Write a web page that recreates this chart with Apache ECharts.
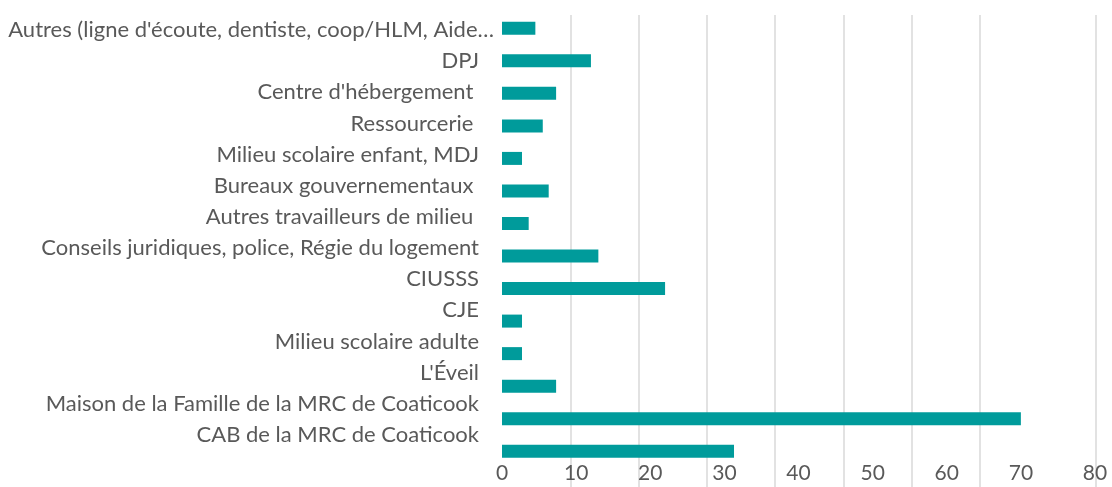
<!doctype html>
<html>
	<head>
		<meta charset="utf-8">
		<title></title>
		<script src="https://cdn.jsdelivr.net/npm/echarts@6/dist/echarts.min.js"></script>
		<style>
			html, body {
				margin: 0px;
				padding: 0px;
				background: #ffffff;
			}
			.bar-chart {
				width: 1112px;
				height: 487px;
			}
		</style>
	</head>

	<body>
		<div class="bar-chart" id="barChart"></div>
	</body>

	<script type="text/javascript">
		//类目名（从上到下）
		var categories = [
			"Autres (ligne d'écoute, dentiste, coop/HLM, Aide…",
			"DPJ",
			"Centre d'hébergement ",
			"Ressourcerie ",
			"Milieu scolaire enfant, MDJ",
			"Bureaux gouvernementaux ",
			"Autres travailleurs de milieu ",
			"Conseils juridiques, police, Régie du logement",
			"CIUSSS",
			"CJE",
			"Milieu scolaire adulte",
			"L'Éveil",
			"Maison de la Famille de la MRC de Coaticook",
			"CAB de la MRC de Coaticook"
		];
		//柱状图值
		var values = [4.5, 12, 7.3, 5.5, 2.7, 6.3, 3.6, 13, 22, 2.7, 2.7, 7.3, 70, 31.3];
		//x轴刻度
		var xMin = 0;
		var xMax = 80;
		var xStep = 10;

		var font = 'Lato';
		var textColor = '#595959';
		var gridColor = '#d9d9d9';

		var byId = function(id) {
			return document.getElementById(id);
		};

		var barChart = echarts.init(byId('barChart'));

		// 网格线（原图的网格线与刻度不对齐，单独一个网格画出来）
		var lineColors = [gridColor, gridColor, gridColor, gridColor, gridColor, gridColor, gridColor, 'rgba(0,0,0,0)', gridColor];

		// 第一个标签被截断，比其他标签更靠右
		var labelData = categories.map(function(name, i) {
			if (i === 0) {
				return {
					value: name,
					textStyle: { padding: [0, -15, 0, 0] }
				};
			}
			return name;
		});

		var option = {
			animation: false,
			grid: [{
				// 柱子
				left: 502,
				right: 17,
				top: 12,
				height: 455.5
			}, {
				// 类目标签
				left: 487,
				right: 17,
				top: 14.4,
				height: 436.1
			}, {
				// 网格线
				left: 502,
				right: 16,
				top: 15,
				bottom: 0
			}],
			xAxis: [{
				gridIndex: 0,
				type: 'value',
				min: xMin,
				max: xMax,
				interval: xStep,
				axisLine: { show: false },
				axisTick: { show: false },
				splitLine: { show: false },
				axisLabel: {
					margin: -5,
					color: textColor,
					fontFamily: font,
					fontSize: 21
				}
			}, {
				gridIndex: 1,
				type: 'value',
				min: 0,
				max: 1,
				show: false
			}, {
				gridIndex: 2,
				type: 'value',
				min: 0,
				max: 8.7,
				interval: 1,
				axisLine: { show: false },
				axisTick: { show: false },
				axisLabel: { show: false },
				splitLine: {
					show: true,
					showMinLine: false,
					lineStyle: {
						color: lineColors,
						width: 1.5
					}
				}
			}],
			yAxis: [{
				gridIndex: 0,
				type: 'category',
				inverse: true,
				data: categories,
				axisLine: { show: false },
				axisTick: { show: false },
				axisLabel: { show: false }
			}, {
				gridIndex: 1,
				type: 'category',
				inverse: true,
				data: labelData,
				axisLine: { show: false },
				axisTick: { show: false },
				axisLabel: {
					margin: 8,
					color: textColor,
					fontFamily: font,
					fontSize: 22
				}
			}, {
				gridIndex: 2,
				type: 'value',
				min: 0,
				max: 1,
				show: false
			}],
			series: [{
				name: 'values',
				type: 'bar',
				xAxisIndex: 0,
				yAxisIndex: 0,
				barWidth: 13,
				itemStyle: {
					color: '#009b9b'
				},
				data: values
			}]
		};

		barChart.setOption(option);
	</script>

</html>
